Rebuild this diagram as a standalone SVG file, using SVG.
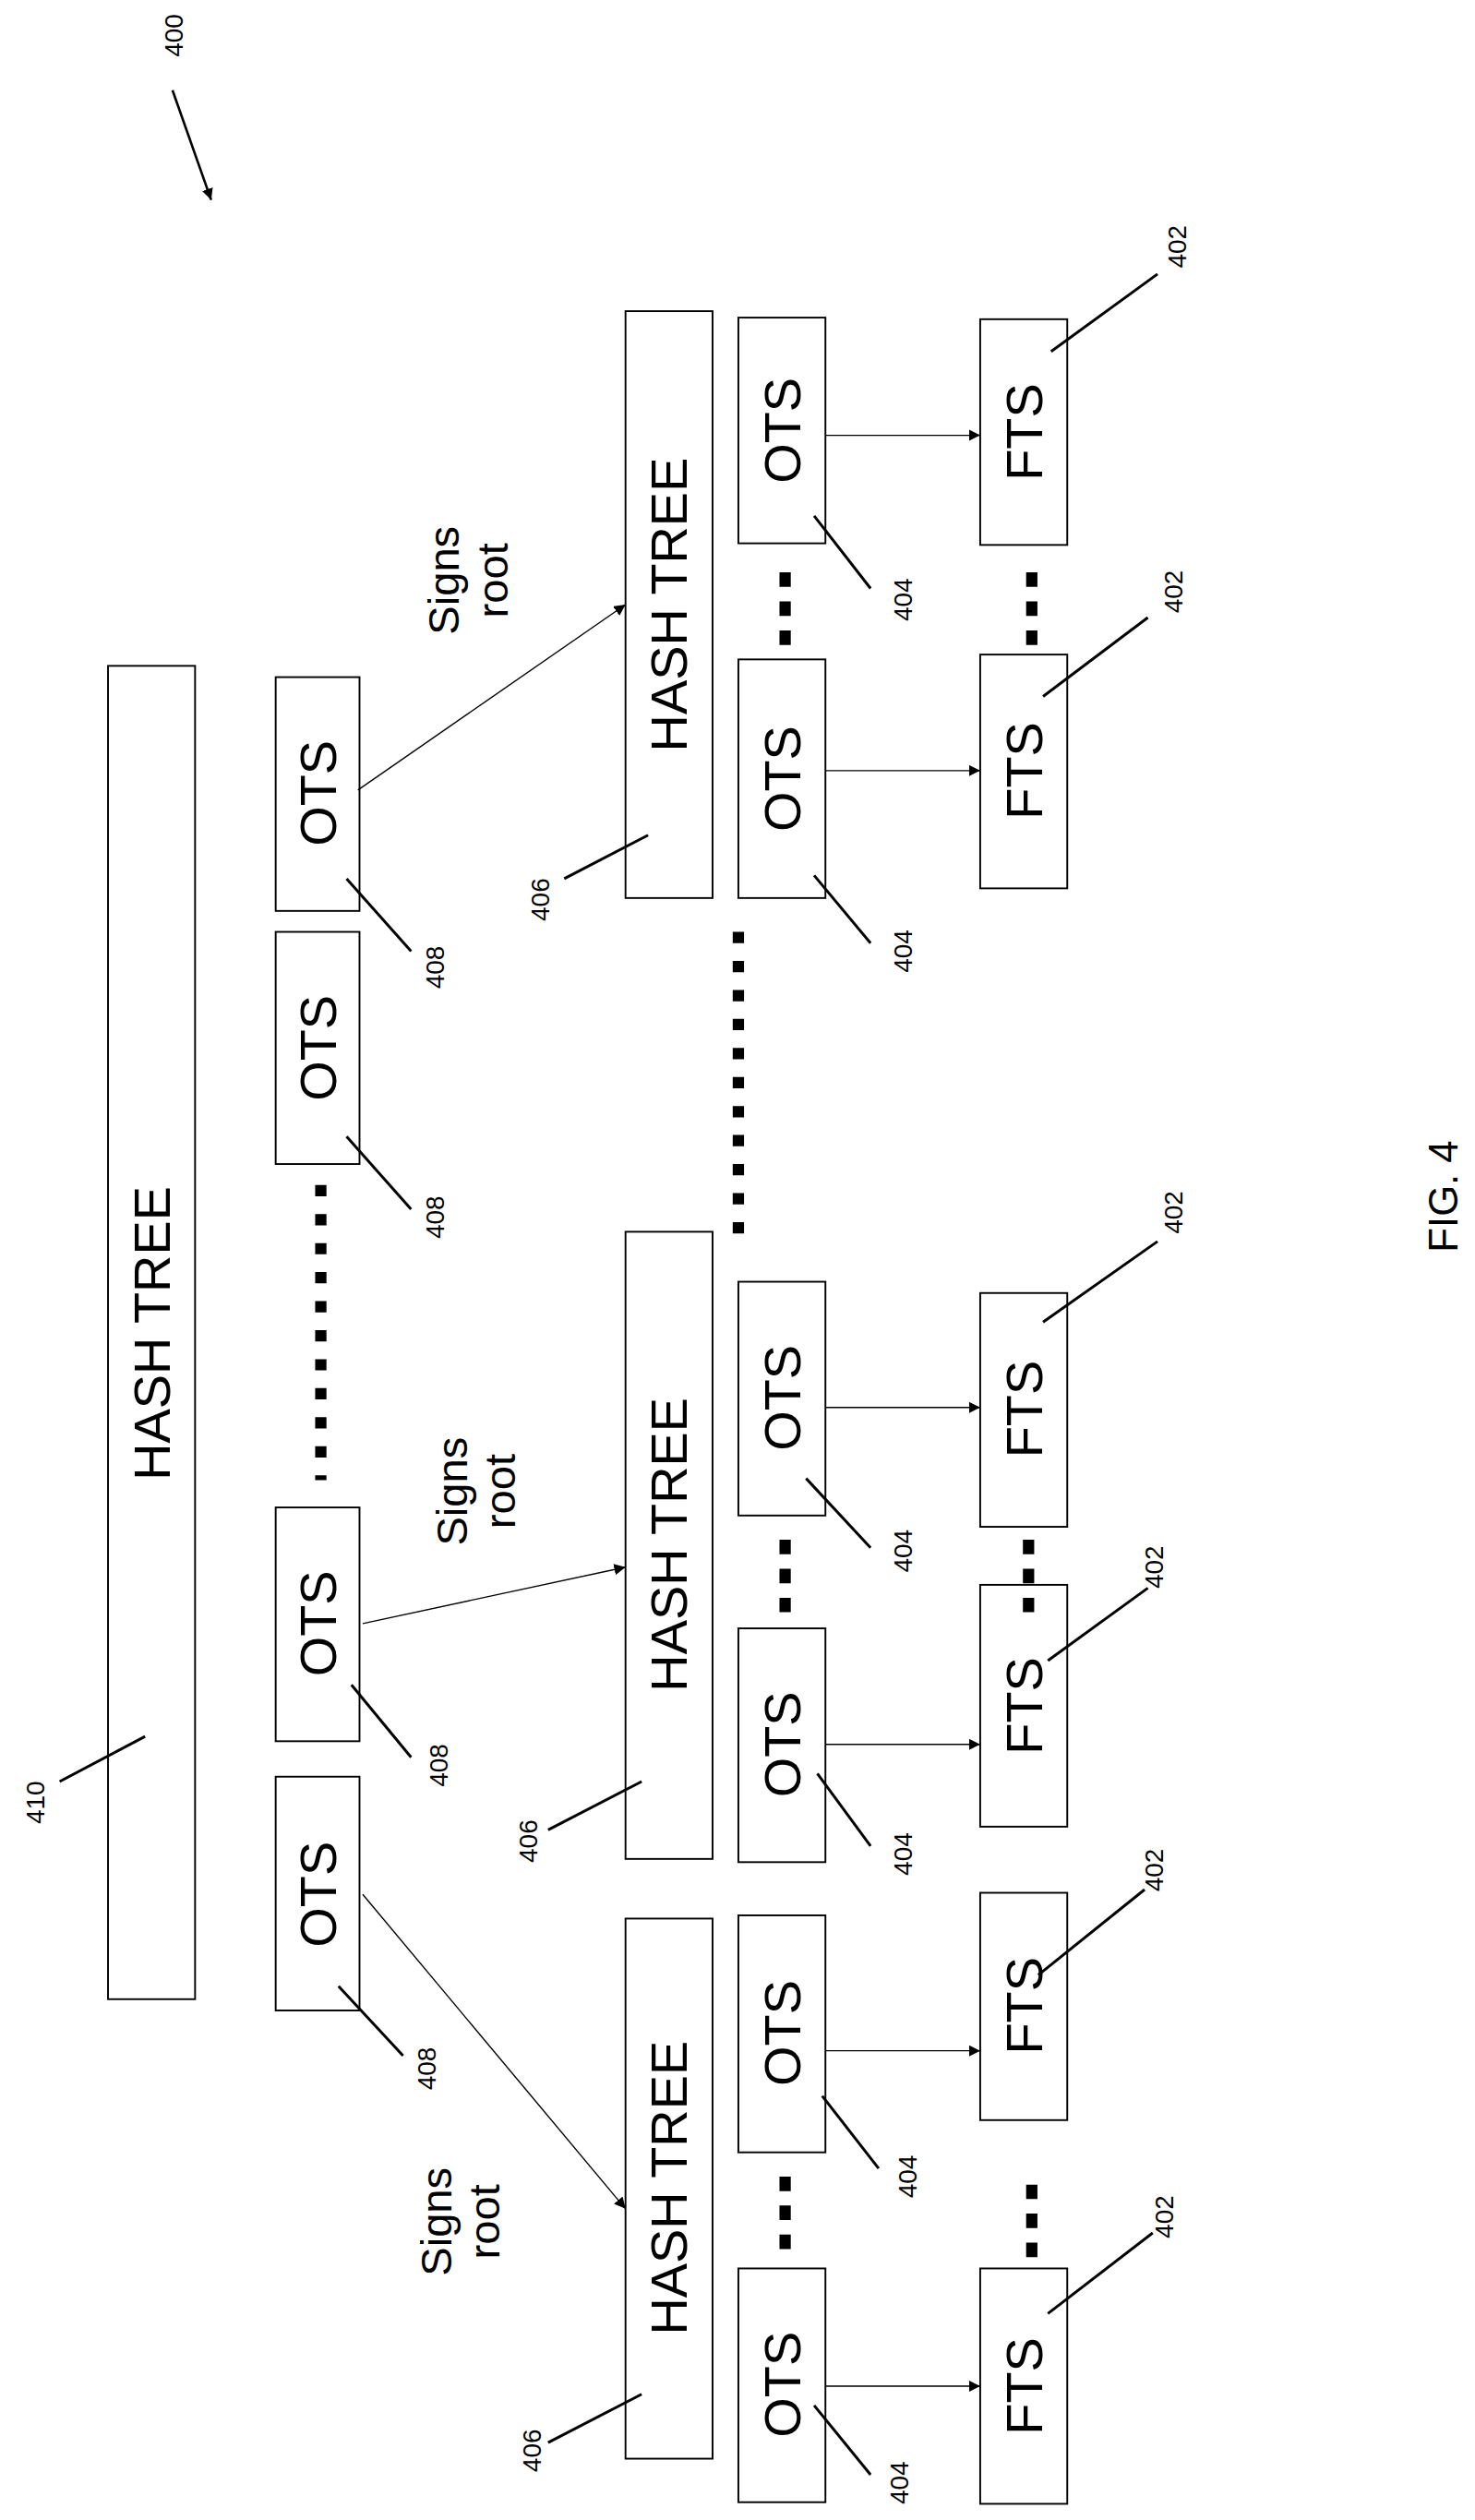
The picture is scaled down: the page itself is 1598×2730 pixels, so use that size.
<svg xmlns="http://www.w3.org/2000/svg" width="1598" height="2730" viewBox="0 0 1598 2730">
<defs>
<marker id="ah" viewBox="0 0 10 10" refX="10" refY="5" markerWidth="7" markerHeight="7" markerUnits="userSpaceOnUse" orient="auto"><path d="M0,0 L10,5 L0,10 z" fill="#000"/></marker>
<style>
.b{fill:#fff;stroke:#000;stroke-width:1.1}
.t{font-family:"Liberation Sans",Arial,sans-serif;text-anchor:middle;dominant-baseline:central;fill:#000}
.big{font-size:32px}
.sr{font-size:27px}
.n{font-size:16px}
.l{stroke:#000;stroke-width:1.7;fill:none}
.a{stroke:#000;stroke-width:0.8;fill:none;marker-end:url(#ah)}
.d{stroke:#000;stroke-width:7;stroke-dasharray:9,9;fill:none}
.dl{stroke:#000;stroke-width:7;stroke-dasharray:7,11;fill:none}
</style>
</defs>
<rect width="1598" height="2730" fill="#fff"/>
<g transform="scale(1.7466)">
<g id="n410"><rect class="b" x="67" y="413" width="54" height="827"/><text class="t big" transform="rotate(-90 94 827)" x="94" y="827">HASH TREE</text></g>
<g id="o408a"><rect class="b" x="171" y="420" width="52" height="145"/><text class="t big" transform="rotate(-90 197 492)" x="197" y="492">OTS</text></g>
<g id="o408b"><rect class="b" x="171" y="578" width="52" height="144"/><text class="t big" transform="rotate(-90 197 650)" x="197" y="650">OTS</text></g>
<g id="o408c"><rect class="b" x="171" y="935" width="52" height="145"/><text class="t big" transform="rotate(-90 197 1007)" x="197" y="1007">OTS</text></g>
<g id="o408d"><rect class="b" x="171" y="1102" width="52" height="145"/><text class="t big" transform="rotate(-90 197 1175)" x="197" y="1175">OTS</text></g>
<g id="h1"><rect class="b" x="388" y="193" width="54" height="364"/><text class="t big" transform="rotate(-90 415 375)" x="415" y="375">HASH TREE</text></g>
<g id="h2"><rect class="b" x="388" y="764" width="54" height="389"/><text class="t big" transform="rotate(-90 415 958)" x="415" y="958">HASH TREE</text></g>
<g id="h3"><rect class="b" x="388" y="1190" width="54" height="335"/><text class="t big" transform="rotate(-90 415 1357)" x="415" y="1357">HASH TREE</text></g>
<g id="o1a"><rect class="b" x="458" y="197" width="54" height="140"/><text class="t big" transform="rotate(-90 485 267)" x="485" y="267">OTS</text></g>
<g id="o1b"><rect class="b" x="458" y="409" width="54" height="148"/><text class="t big" transform="rotate(-90 485 483)" x="485" y="483">OTS</text></g>
<g id="o2a"><rect class="b" x="458" y="795" width="54" height="145"/><text class="t big" transform="rotate(-90 485 867)" x="485" y="867">OTS</text></g>
<g id="o2b"><rect class="b" x="458" y="1010" width="54" height="145"/><text class="t big" transform="rotate(-90 485 1082)" x="485" y="1082">OTS</text></g>
<g id="o3a"><rect class="b" x="458" y="1188" width="54" height="147"/><text class="t big" transform="rotate(-90 485 1261)" x="485" y="1261">OTS</text></g>
<g id="o3b"><rect class="b" x="458" y="1407" width="54" height="145"/><text class="t big" transform="rotate(-90 485 1479)" x="485" y="1479">OTS</text></g>
<g id="f1a"><rect class="b" x="608" y="198" width="54" height="140"/><text class="t big" transform="rotate(-90 635 268)" x="635" y="268">FTS</text></g>
<g id="f1b"><rect class="b" x="608" y="406" width="54" height="145"/><text class="t big" transform="rotate(-90 635 478)" x="635" y="478">FTS</text></g>
<g id="f2a"><rect class="b" x="608" y="802" width="54" height="145"/><text class="t big" transform="rotate(-90 635 874)" x="635" y="874">FTS</text></g>
<g id="f2b"><rect class="b" x="608" y="983" width="54" height="150"/><text class="t big" transform="rotate(-90 635 1058)" x="635" y="1058">FTS</text></g>
<g id="f3a"><rect class="b" x="608" y="1174" width="54" height="141"/><text class="t big" transform="rotate(-90 635 1244)" x="635" y="1244">FTS</text></g>
<g id="f3b"><rect class="b" x="608" y="1407" width="54" height="146"/><text class="t big" transform="rotate(-90 635 1480)" x="635" y="1480">FTS</text></g>
<g id="labels">
<text class="t sr" transform="rotate(-90 290 360)" x="290" y="360"><tspan x="290" dy="-15">Signs</tspan><tspan x="290" dy="30">root</tspan></text>
<text class="t sr" transform="rotate(-90 295 925)" x="295" y="925"><tspan x="295" dy="-15">Signs</tspan><tspan x="295" dy="30">root</tspan></text>
<text class="t sr" transform="rotate(-90 285 1378)" x="285" y="1378"><tspan x="285" dy="-15">Signs</tspan><tspan x="285" dy="30">root</tspan></text>
<text class="t n" transform="rotate(-90 108 22)" x="108" y="22">400</text>
<text class="t n" transform="rotate(-90 22 1118)" x="22" y="1118">410</text>
<text class="t n" transform="rotate(-90 270 600)" x="270" y="600">408</text>
<text class="t n" transform="rotate(-90 270 755)" x="270" y="755">408</text>
<text class="t n" transform="rotate(-90 272 1095)" x="272" y="1095">408</text>
<text class="t n" transform="rotate(-90 265 1283)" x="265" y="1283">408</text>
<text class="t n" transform="rotate(-90 335 558)" x="335" y="558">406</text>
<text class="t n" transform="rotate(-90 328 1142)" x="328" y="1142">406</text>
<text class="t n" transform="rotate(-90 330 1520)" x="330" y="1520">406</text>
<text class="t n" transform="rotate(-90 560 372)" x="560" y="372">404</text>
<text class="t n" transform="rotate(-90 560 590)" x="560" y="590">404</text>
<text class="t n" transform="rotate(-90 560 962)" x="560" y="962">404</text>
<text class="t n" transform="rotate(-90 560 1150)" x="560" y="1150">404</text>
<text class="t n" transform="rotate(-90 563 1350)" x="563" y="1350">404</text>
<text class="t n" transform="rotate(-90 558 1540)" x="558" y="1540">404</text>
<text class="t n" transform="rotate(-90 730 153)" x="730" y="153">402</text>
<text class="t n" transform="rotate(-90 728 367)" x="728" y="367">402</text>
<text class="t n" transform="rotate(-90 728 752)" x="728" y="752">402</text>
<text class="t n" transform="rotate(-90 716 972)" x="716" y="972">402</text>
<text class="t n" transform="rotate(-90 716 1160)" x="716" y="1160">402</text>
<text class="t n" transform="rotate(-90 722 1375)" x="722" y="1375">402</text>
<text class="t" style="font-size:25px" transform="rotate(-90 895 742)" x="895" y="742">FIG. 4</text>
</g>
<g id="connectors">
<line class="a" x1="107" y1="56" x2="131" y2="124" style="stroke-width:1.5"/>
<line class="l" x1="37" y1="1105" x2="90" y2="1077"/>
<line class="l" x1="215" y1="545" x2="255" y2="590"/>
<line class="l" x1="215" y1="705" x2="255" y2="750"/>
<line class="l" x1="218" y1="1045" x2="255" y2="1090"/>
<line class="l" x1="210" y1="1232" x2="250" y2="1275"/>
<line class="l" x1="350" y1="545" x2="402" y2="518"/>
<line class="l" x1="340" y1="1135" x2="398" y2="1105"/>
<line class="l" x1="340" y1="1515" x2="398" y2="1485"/>
<line class="l" x1="505" y1="320" x2="540" y2="365"/>
<line class="l" x1="505" y1="543" x2="540" y2="585"/>
<line class="l" x1="500" y1="917" x2="540" y2="960"/>
<line class="l" x1="507" y1="1100" x2="540" y2="1145"/>
<line class="l" x1="510" y1="1300" x2="545" y2="1345"/>
<line class="l" x1="505" y1="1492" x2="540" y2="1535"/>
<line class="l" x1="652" y1="218" x2="718" y2="170"/>
<line class="l" x1="647" y1="432" x2="712" y2="383"/>
<line class="l" x1="647" y1="820" x2="718" y2="770"/>
<line class="l" x1="650" y1="1030" x2="712" y2="985"/>
<line class="l" x1="644" y1="1225" x2="710" y2="1172"/>
<line class="l" x1="650" y1="1435" x2="715" y2="1385"/>
<line class="a" x1="222" y1="490" x2="388" y2="375"/>
<line class="a" x1="225" y1="1007" x2="388" y2="972"/>
<line class="a" x1="225" y1="1175" x2="388" y2="1370"/>
<line class="a" x1="512" y1="270" x2="608" y2="270"/>
<line class="a" x1="512" y1="478" x2="608" y2="478"/>
<line class="a" x1="512" y1="873" x2="608" y2="873"/>
<line class="a" x1="512" y1="1082" x2="608" y2="1082"/>
<line class="a" x1="512" y1="1272" x2="608" y2="1272"/>
<line class="a" x1="512" y1="1480" x2="608" y2="1480"/>
<line class="dl" x1="199" y1="735" x2="199" y2="918"/>
<line class="dl" x1="458" y1="578" x2="458" y2="766"/>
<line class="d" x1="487" y1="355" x2="487" y2="400"/>
<line class="d" x1="640" y1="355" x2="640" y2="400"/>
<line class="d" x1="487" y1="955" x2="487" y2="1000"/>
<line class="d" x1="638" y1="955" x2="638" y2="1000"/>
<line class="d" x1="487" y1="1350" x2="487" y2="1395"/>
<line class="d" x1="640" y1="1355" x2="640" y2="1400"/>
</g>
</g>
</svg>
